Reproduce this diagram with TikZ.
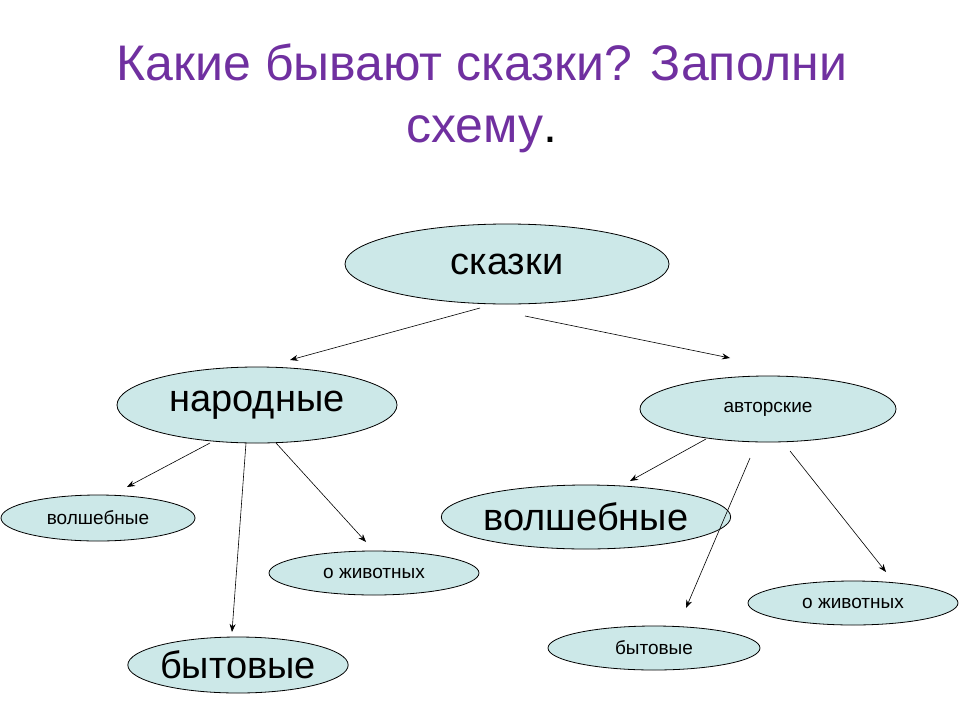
\documentclass[tikz,border=0pt]{standalone}
\usepackage{fontspec}
\setmainfont{Liberation Sans}
\usetikzlibrary{arrows.meta,shapes.geometric}
\definecolor{fillc}{RGB}{204,232,232}
\definecolor{titlec}{RGB}{112,48,160}
\tikzset{
 ell/.style={draw=black,line width=0.8pt,fill=fillc,ellipse,inner sep=0pt},
 arr/.style={-{Stealth[length=8pt,width=6pt]},line width=0.6pt},
 big/.style={font=\fontsize{38}{38}\selectfont},
 small/.style={font=\fontsize{19}{19}\selectfont}
}
\newcommand{\ellnode}[6]{\node[ell,minimum width=#3pt,minimum height=#4pt,#5] (#1) at #2 {#6};}
\begin{document}
\begin{tikzpicture}[x=1pt,y=-1pt]
\useasboundingbox (0,0) rectangle (960,720);
\node[text=titlec,align=center,font=\fontsize{50}{62}\selectfont] (title) at (482,98) {Какие бывают сказки? Заполни\\схему\textcolor{black}{.}};
\ellnode{s}{(507,264)}{324}{80}{big}{сказки}
\ellnode{n}{(257,405)}{280}{76}{big}{народные}
\ellnode{a}{(768,409)}{256}{66}{small}{авторские}
\ellnode{nv}{(98,518)}{194}{46}{small}{волшебные}
\ellnode{nz}{(374,573)}{210}{44}{small}{о животных}
\ellnode{nb}{(238,665)}{210}{56}{big}{бытовые}
\ellnode{av}{(586,517)}{242}{64}{big}{волшебные}
\ellnode{ab}{(654,648)}{212}{44}{small}{бытовые}
\ellnode{az}{(853,603)}{210}{44}{small}{о животных}
\coordinate (c1) at (480,308); \coordinate (d1) at (290,360);
\coordinate (c2) at (525,316); \coordinate (d2) at (730,358);
\coordinate (c3) at (210,443); \coordinate (d3) at (127,487);
\coordinate (c4) at (246,443); \coordinate (d4) at (232,632);
\coordinate (c5) at (276,443); \coordinate (d5) at (366,542);
\coordinate (c6) at (706,439); \coordinate (d6) at (630,481);
\coordinate (c7) at (750,458); \coordinate (d7) at (686,608);
\coordinate (c8) at (790,451); \coordinate (d8) at (886,572);
\foreach \i in {1,...,8} {\draw[arr] (c\i) -- (d\i);}
\end{tikzpicture}
\end{document}
